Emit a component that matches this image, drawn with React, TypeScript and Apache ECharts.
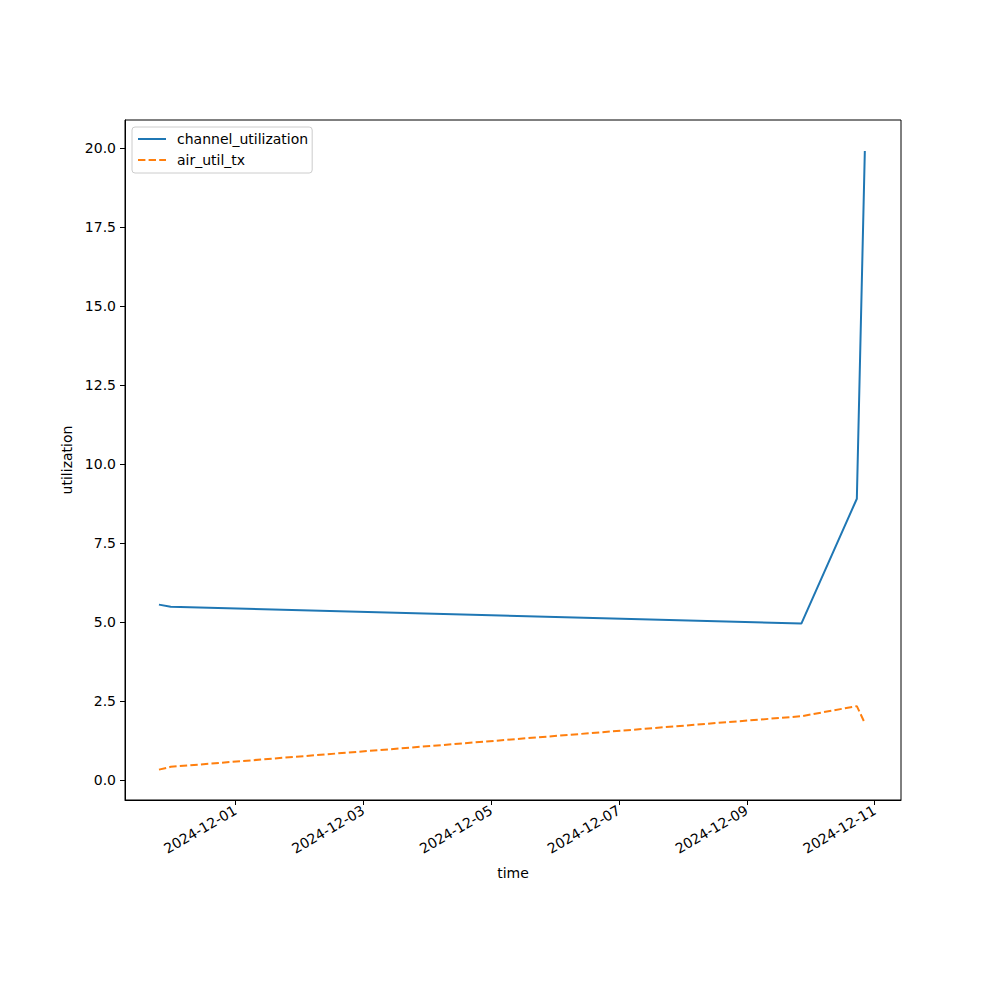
import React, { useEffect, useRef } from "react";
import * as echarts from "echarts";

const times = [
  "2024-11-29T19:15:00Z",
  "2024-11-29T23:40:00Z",
  "2024-12-09T20:30:00Z",
  "2024-12-10T17:20:00Z",
  "2024-12-10T20:20:00Z",
];
const channelUtilization = [5.55, 5.48, 4.95, 8.9, 19.9];
const airUtilTx = [0.33, 0.42, 2.02, 2.34, 1.8];
const xTickDates = [
  "2024-12-01T00:00:00Z",
  "2024-12-03T00:00:00Z",
  "2024-12-05T00:00:00Z",
  "2024-12-07T00:00:00Z",
  "2024-12-09T00:00:00Z",
  "2024-12-11T00:00:00Z",
];
const yTicks = [0, 2.5, 5, 7.5, 10, 12.5, 15, 17.5, 20];

const FONT = "DejaVu Sans";

function fmtDate(v: number) {
  const d = new Date(v);
  const p = (n: number) => (n < 10 ? "0" + n : "" + n);
  return `${d.getUTCFullYear()}-${p(d.getUTCMonth() + 1)}-${p(d.getUTCDate())}`;
}

export default function App() {
  const ref = useRef<HTMLDivElement>(null);
  useEffect(() => {
    if (!ref.current) return;
    const chart = echarts.init(ref.current, null, { renderer: "svg" });
    const ts = times.map((t) => Date.parse(t));
    const xTicks = xTickDates.map((t) => Date.parse(t));
    chart.setOption({
      animation: false,
      backgroundColor: "#ffffff",
      textStyle: { fontFamily: FONT },
      grid: {
        left: 125,
        right: 99,
        top: 120,
        bottom: 200,
        show: true,
        borderColor: "#000",
        borderWidth: 1,
        containLabel: false,
      },
      legend: {
        orient: "vertical",
        left: 132,
        top: 127,
        padding: [5, 4, 6, 5],
        itemGap: 7,
        itemWidth: 28,
        itemHeight: 14,
        borderColor: "#cccccc",
        borderWidth: 1,
        borderRadius: 3,
        backgroundColor: "rgba(255,255,255,0.8)",
        itemStyle: { opacity: 0, borderWidth: 0 },
        textStyle: {
          fontFamily: FONT,
          fontSize: 14,
          color: "#000",
          padding: [0, 0, 0, 6],
        },
        data: ["channel_utilization", "air_util_tx"],
      },
      xAxis: {
        type: "value",
        min: Date.parse("2024-11-29T06:30:00Z"),
        max: Date.parse("2024-12-11T09:55:00Z"),
        name: "time",
        nameLocation: "middle",
        nameGap: 66,
        nameTextStyle: { fontFamily: FONT, fontSize: 14, color: "#000" },
        axisLine: { show: true, onZero: false, lineStyle: { color: "#000", width: 1 } },
        axisTick: {
          show: true,
          inside: false,
          length: 5,
          lineStyle: { color: "#000" },
          customValues: xTicks,
        },
        axisLabel: {
          show: true,
          rotate: 30,
          margin: 9,
          fontFamily: FONT,
          fontSize: 14,
          color: "#000",
          customValues: xTicks,
          formatter: (v: number) => fmtDate(v),
        },
        splitLine: { show: false },
      },
      yAxis: {
        type: "value",
        min: -0.63,
        max: 20.88,
        name: "utilization",
        nameLocation: "middle",
        nameGap: 45,
        nameTextStyle: { fontFamily: FONT, fontSize: 14, color: "#000" },
        axisLine: { show: true, onZero: false, lineStyle: { color: "#000", width: 1 } },
        axisTick: {
          show: true,
          inside: false,
          length: 5,
          lineStyle: { color: "#000" },
          customValues: yTicks,
        },
        axisLabel: {
          show: true,
          margin: 9,
          fontFamily: FONT,
          fontSize: 14,
          color: "#000",
          customValues: yTicks,
          formatter: (v: number) => v.toFixed(1),
        },
        splitLine: { show: false },
      },
      series: [
        {
          name: "channel_utilization",
          type: "line",
          symbol: "none",
          showSymbol: false,
          color: "#1f77b4",
          lineStyle: { color: "#1f77b4", width: 2 },
          data: ts.map((t, i) => [t, channelUtilization[i]]),
        },
        {
          name: "air_util_tx",
          type: "line",
          symbol: "none",
          showSymbol: false,
          color: "#ff7f0e",
          lineStyle: { color: "#ff7f0e", width: 2, type: [7.4, 3.2] },
          data: ts.map((t, i) => [t, airUtilTx[i]]),
        },
      ],
    });
    return () => chart.dispose();
  }, []);
  return (
    <div
      ref={ref}
      style={{ position: "fixed", left: 0, top: 0, width: 1000, height: 1000 }}
    />
  );
}
